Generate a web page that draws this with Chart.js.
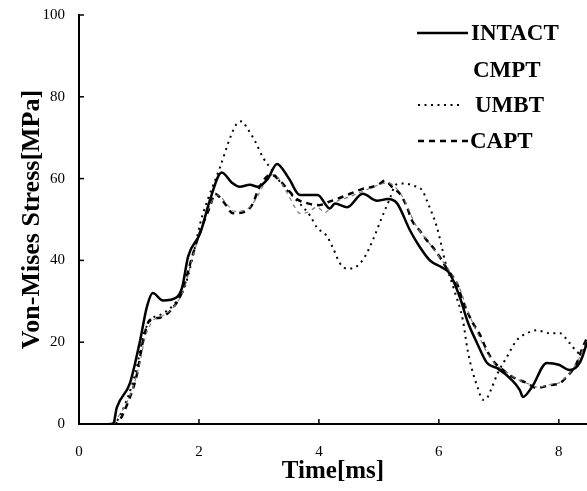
<!DOCTYPE html>
<html>
<head>
<meta charset="utf-8">
<script src="https://cdn.jsdelivr.net/npm/chart.js@4/dist/chart.umd.min.js"></script>
<style>
  html, body { margin: 0; padding: 0; background: #fff; }
  #wrap { width: 587px; height: 491px; }
</style>
</head>
<body>
<div id="wrap"><canvas id="myChart" width="587" height="491"></canvas></div>
<script>
// values (time in ms, stress in MPa)
const xTicks = [0, 2, 4, 6, 8]
const yTicks = [0, 20, 40, 60, 80, 100]

const intactTime = [0.5, 0.57, 0.63, 0.85, 1.02, 1.13, 1.23, 1.4, 1.63, 1.72, 1.82, 2.02, 2.18, 2.38, 2.55, 2.68, 2.85, 2.98, 3.15, 3.3, 3.5, 3.68, 3.98, 4.18, 4.27, 4.47, 4.73, 4.97, 5.15, 5.3, 5.52, 5.65, 5.85, 6.05, 6.18, 6.35, 6.48, 6.63, 6.8, 6.98, 7.2, 7.35, 7.4, 7.55, 7.8, 8.0, 8.18, 8.35, 8.47, 8.52]
const intactStress = [0, 0, 4, 10, 20.5, 28.5, 32, 30.2, 31, 33.4, 41, 46.6, 54.6, 61.5, 59, 58, 58.5, 58, 60, 63.6, 60, 56, 56, 52.7, 53.9, 53, 56.3, 54.6, 55, 54, 47.3, 44, 40, 38.3, 36.8, 31, 25, 20, 15, 13.6, 11, 8.3, 6.6, 9, 14.9, 14.5, 13.2, 15, 20, 23]

const cmptTime = [0.58, 0.85, 1.0, 1.1, 1.22, 1.4, 1.6, 1.75, 1.9, 2.05, 2.2, 2.32, 2.45, 2.6, 2.8, 2.95, 3.1, 3.25, 3.45, 3.6, 3.68, 3.8, 3.97, 4.1, 4.25, 4.5, 4.75, 5.0, 5.15, 5.3, 5.45, 5.6, 5.8, 6.0, 6.2, 6.35, 6.5, 6.65, 6.8, 6.95, 7.1, 7.3, 7.5, 7.65, 7.85, 8.0, 8.15, 8.3, 8.47]
const cmptStress = [0, 7, 14, 21, 25, 26.5, 29, 33, 41, 48, 54, 56, 54, 52, 52.5, 55, 59, 61, 57, 53, 51.5, 51.7, 53, 51.7, 54, 55.5, 57, 58.5, 59, 57.5, 54, 49, 45, 41, 37, 33, 27, 22, 17.5, 14.5, 13, 11, 9.8, 9, 9.6, 10, 12, 15, 20.5]

const umbtTime = [0.55, 0.62, 0.8, 0.95, 1.08, 1.2, 1.4, 1.6, 1.75, 1.9, 2.02, 2.15, 2.35, 2.52, 2.63, 2.72, 2.8, 2.93, 3.07, 3.22, 3.3, 3.48, 3.68, 3.85, 3.97, 4.13, 4.23, 4.35, 4.47, 4.6, 4.75, 4.9, 5.05, 5.18, 5.28, 5.4, 5.57, 5.73, 5.8, 5.97, 6.05, 6.1, 6.25, 6.4, 6.48, 6.57, 6.65, 6.73, 6.8, 6.88, 6.98, 7.13, 7.3, 7.47, 7.63, 7.85, 8.02, 8.18, 8.35, 8.47]
const umbtStress = [0, 0.5, 6, 13, 22, 25.5, 27, 29.5, 33, 41, 49, 55, 62.7, 70, 73.4, 74, 72.4, 69.3, 65.1, 62, 60.2, 57, 53.9, 51, 48, 46, 43.2, 39.3, 38, 38.3, 40.5, 45, 50.5, 55, 58.5, 58.8, 58.3, 57, 54.6, 48, 43.2, 40, 33, 25.4, 18, 12.4, 8.8, 5.9, 6.3, 8.8, 12.4, 16.3, 20.5, 22.2, 22.9, 22.2, 22.2, 19.8, 17.3, 19.3]

const captTime = [0.55, 0.6, 0.85, 0.97, 1.07, 1.18, 1.35, 1.57, 1.73, 1.85, 1.97, 2.07, 2.18, 2.27, 2.35, 2.43, 2.57, 2.8, 2.9, 2.98, 3.1, 3.2, 3.35, 3.5, 3.63, 3.8, 4.0, 4.2, 4.3, 4.52, 4.73, 4.9, 5.02, 5.1, 5.23, 5.35, 5.47, 5.55, 5.68, 5.8, 5.9, 6.02, 6.15, 6.3, 6.4, 6.57, 6.68, 6.8, 6.93, 7.07, 7.23, 7.47, 7.63, 7.85, 8.02, 8.13, 8.3, 8.4, 8.47]
const captStress = [0, 0, 6.6, 12.4, 20.5, 25.4, 26, 28.5, 32.7, 39, 44.9, 49, 53, 56.3, 55.4, 53.9, 51.5, 52.2, 53.9, 57, 60, 61, 59.5, 57, 55, 54, 53.5, 54.5, 55, 56.3, 57.5, 58, 58.8, 59.5, 57.8, 56.3, 53, 49.8, 47.3, 44.9, 43.2, 40.7, 37.6, 34.4, 30, 24.6, 22, 18, 15, 13.2, 11.5, 10, 8.8, 9.5, 10, 11.5, 14.9, 18.8, 21]

const toPoints = (xs, ys) => xs.map((x, i) => ({ x: x, y: ys[i] }))

const serif = '"Liberation Serif", "Times New Roman", serif'

const ctx = document.querySelector('#myChart').getContext('2d')

// small tick marks pointing into the plot, like the original figure
const innerTicks = {
  id: 'innerTicks',
  afterDraw: (chart) => {
    const { ctx, chartArea, scales } = chart
    ctx.save()
    ctx.strokeStyle = '#000'
    ctx.lineWidth = 1.5
    scales.y.ticks.forEach(t => {
      const py = scales.y.getPixelForValue(t.value)
      ctx.beginPath()
      ctx.moveTo(chartArea.left, py)
      ctx.lineTo(chartArea.left + 5, py)
      ctx.stroke()
    })
    scales.x.ticks.forEach(t => {
      const px = scales.x.getPixelForValue(t.value)
      ctx.beginPath()
      ctx.moveTo(px, chartArea.bottom)
      ctx.lineTo(px, chartArea.bottom - 5)
      ctx.stroke()
    })
    ctx.restore()
  }
}

// legend in the top right corner, samples drawn with each dataset's own style
const cornerLegend = {
  id: 'cornerLegend',
  afterDraw: (chart, args, opts) => {
    const { ctx } = chart
    ctx.save()
    ctx.font = 'bold 23px ' + serif
    ctx.textBaseline = 'middle'
    ctx.fillStyle = '#000'
    chart.data.datasets.forEach((ds, i) => {
      const row = opts.rows[i]
      if (row.sample) {
        ctx.strokeStyle = ds.borderColor
        ctx.lineWidth = ds.borderWidth
        ctx.setLineDash(ds.borderDash || [])
        ctx.beginPath()
        ctx.moveTo(row.x0, row.y)
        ctx.lineTo(row.x1, row.y)
        ctx.stroke()
      }
      ctx.setLineDash([])
      ctx.fillText(ds.label, row.tx, row.y + 1)
    })
    ctx.restore()
  }
}

const config = {
  type: 'line',
  data: {
    datasets: [
      { label: 'INTACT', data: toPoints(intactTime, intactStress), borderColor: '#000', borderWidth: 2.5 },
      { label: 'CMPT', data: toPoints(cmptTime, cmptStress), borderColor: '#777', borderWidth: 1.1, borderDash: [4, 4] },
      { label: 'UMBT', data: toPoints(umbtTime, umbtStress), borderColor: '#000', borderWidth: 2, borderDash: [2, 4.5] },
      { label: 'CAPT', data: toPoints(captTime, captStress), borderColor: '#000', borderWidth: 2.5, borderDash: [6, 5] }
    ]
  },
  plugins: [innerTicks, cornerLegend],
  options: {
    responsive: false,
    animation: false,
    parsing: false,
    layout: { padding: { left: 17, top: 0, right: 0, bottom: 4 } },
    elements: {
      point: { radius: 0 },
      line: { cubicInterpolationMode: 'monotone', fill: false }
    },
    scales: {
      x: {
        type: 'linear',
        min: 0,
        max: 8.47,
        afterBuildTicks: s => { s.ticks = xTicks.map(v => ({ value: v })) },
        afterFit: s => { s.height = 63; s.paddingLeft = 0; s.paddingRight = 0 },
        grid: { display: false, drawTicks: false },
        border: { display: true, color: '#000', width: 2 },
        ticks: { color: '#000', padding: 19, font: { family: serif, size: 15 } },
        title: { display: true, text: 'Time[ms]', color: '#000', padding: 0, font: { family: serif, size: 25, weight: 'bold' } }
      },
      y: {
        min: 0,
        max: 100,
        afterBuildTicks: s => { s.ticks = yTicks.map(v => ({ value: v })) },
        afterFit: s => { s.width = 62; s.paddingTop = 15; s.paddingBottom = 0 },
        grid: { display: false, drawTicks: false },
        border: { display: true, color: '#000', width: 2 },
        ticks: { color: '#000', padding: 14, font: { family: serif, size: 15 } },
        title: { display: true, text: 'Von-Mises Stress[MPa]', color: '#000', padding: 0, font: { family: serif, size: 26, weight: 'bold' } }
      }
    },
    plugins: {
      legend: { display: false },
      tooltip: { enabled: false },
      cornerLegend: {
        rows: [
          { sample: true, x0: 417, x1: 468, tx: 471, y: 33 },
          { sample: false, x0: 0, x1: 0, tx: 473, y: 70 },
          { sample: true, x0: 418, x1: 460, tx: 475, y: 105 },
          { sample: true, x0: 418, x1: 468, tx: 470, y: 141 }
        ]
      }
    }
  }
}

const myChart = new Chart(ctx, config)
</script>
</body>
</html>
